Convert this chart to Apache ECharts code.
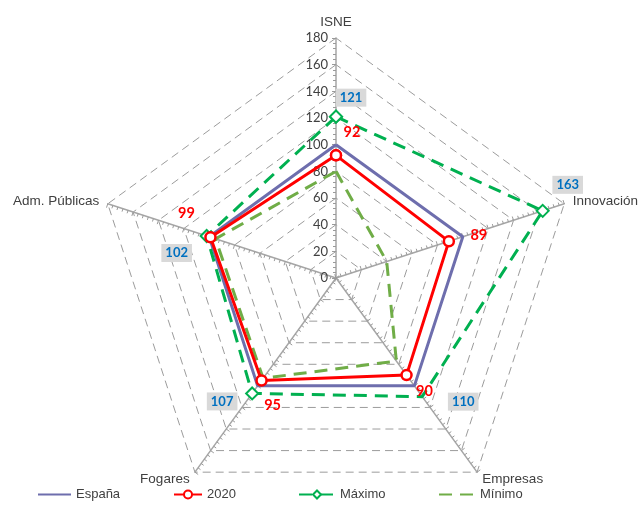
<!DOCTYPE html>
<html>
<head>
<meta charset="utf-8">
<script src="https://cdn.jsdelivr.net/npm/echarts@6/dist/echarts.min.js"></script>
<style>
  html, body { margin: 0; padding: 0; background: #fff; }
  #chart { width: 638px; height: 508px; }
</style>
</head>
<body>
<div id="chart"></div>
<script>
// Axes, clockwise from the top
const indicators = ['ISNE', 'Innovación', 'Empresas', 'Fogares', 'Adm. Públicas'];
const espana = [100, 100, 100, 100, 100];
const serie2020 = [92, 89, 90, 95, 99];
const maximo = [121, 163, 110, 107, 102];
const minimo = [80, 40, 77, 93, 95];
const scaleMax = 180;
const scaleStep = 20;

// Label placement around each vertex (pixels)
const offsets2020 = [[16, -23], [30, -6], [18, 16], [11, 25], [-24, -24]];
const offsetsMax = [[15, -19], [25, -26], [41, 5], [-30, 8], [-30, 17]];
// vertices drawn without a marker on the Máximo line
const maxNoMarker = [2];

const CENTER = ['336', '278'];
const RADIUS = 240;
const FONT = 'Lato';

// Radar lays indicators out counter-clockwise; feed them in reverse so they read clockwise
const radarOrder = [0, 4, 3, 2, 1];

function polarData(values, offsets, labelStyle, noMarker) {
  const pts = values.map((v, i) => {
    const item = { value: [v, i] };
    if (offsets) {
      item.label = Object.assign({ show: true, position: 'inside', offset: offsets[i],
        formatter: String(v) }, labelStyle);
    }
    if (noMarker && noMarker.indexOf(i) >= 0) {
      item.symbolSize = 0;
    }
    return item;
  });
  // close the polygon back at the first axis
  pts.push({ value: [values[0], indicators.length], label: { show: false } });
  return pts;
}

// One polar system per axis, used for the tick marks (the first one also holds the data)
const polars = [], angleAxes = [], radiusAxes = [];
indicators.forEach((name, i) => {
  polars.push({ center: CENTER, radius: RADIUS, startAngle: 90 - i * 72 });
  angleAxes.push({
    polarIndex: i, type: 'value', min: 0, max: indicators.length, clockwise: true,
    startAngle: 90 - i * 72, show: false
  });
  radiusAxes.push({
    polarIndex: i, type: 'value', min: 0, max: scaleMax, interval: scaleStep,
    axisLine: { show: false },
    axisTick: { show: true, length: 4, lineStyle: { color: '#9a9a9a', width: 1 } },
    minorTick: { show: true, splitNumber: 5, length: 3, lineStyle: { color: '#9a9a9a', width: 1 } },
    splitLine: { show: false },
    axisLabel: {
      show: i === 0, color: '#404040', fontFamily: FONT, fontSize: 13, margin: 8
    },
    z: 1
  });
});

const legendText = { color: '#404040', fontFamily: 'Liberation Sans', fontSize: 13 };
const hideMarker = { opacity: 0 };

const chart = echarts.init(document.getElementById('chart'));
chart.setOption({
  backgroundColor: '#ffffff',
  animation: false,
  radar: {
    center: CENTER,
    radius: RADIUS,
    startAngle: 90,
    shape: 'polygon',
    splitNumber: scaleMax / scaleStep,
    indicator: radarOrder.map(k => ({ name: indicators[k], min: 0, max: scaleMax })),
    axisName: { color: '#404040', fontFamily: 'Liberation Sans', fontSize: 13.5 },
    nameGap: 9,
    axisLine: { lineStyle: { color: '#a6a6a6', width: 1.5 } },
    axisTick: { show: false },
    axisLabel: { show: false },
    splitLine: { lineStyle: { color: '#9c9c9c', width: 1, type: [8, 5] } },
    splitArea: { show: false }
  },
  polar: polars,
  angleAxis: angleAxes,
  radiusAxis: radiusAxes,
  legend: [
    { data: [{ name: 'España', itemStyle: hideMarker }], left: 32, itemWidth: 33 },
    { data: ['2020'], left: 168, itemWidth: 28 },
    { data: ['Máximo'], left: 293, itemWidth: 36 },
    { data: [{ name: 'Mínimo', itemStyle: hideMarker }], left: 433, itemWidth: 36 }
  ].map(l => Object.assign({
    bottom: 2, itemHeight: 10, itemGap: 3, textStyle: legendText
  }, l)),
  series: [
    {
      name: 'España', type: 'line', coordinateSystem: 'polar', polarIndex: 0,
      symbol: 'none', color: '#6E6EAD',
      lineStyle: { color: '#6E6EAD', width: 3 },
      data: polarData(espana), z: 3
    },
    {
      name: '2020', type: 'line', coordinateSystem: 'polar', polarIndex: 0,
      symbol: 'circle', symbolSize: 10, color: '#FF0000',
      itemStyle: { color: '#ffffff', borderColor: '#FF0000', borderWidth: 2.5 },
      lineStyle: { color: '#FF0000', width: 3 },
      data: polarData(serie2020, offsets2020, {
        color: '#FF0000', fontWeight: 'bold', fontSize: 14.5, fontFamily: FONT
      }), z: 5
    },
    {
      name: 'Máximo', type: 'line', coordinateSystem: 'polar', polarIndex: 0,
      symbol: 'diamond', symbolSize: 12, color: '#00B050',
      itemStyle: { color: '#ffffff', borderColor: '#00B050', borderWidth: 2 },
      lineStyle: { color: '#00B050', width: 3, type: [13, 8] },
      data: polarData(maximo, offsetsMax, {
        color: '#0070C0', fontWeight: 'bold', fontSize: 13, fontFamily: FONT,
        backgroundColor: '#D9D9D9', padding: [3, 4, 2, 4]
      }, maxNoMarker), z: 4
    },
    {
      name: 'Mínimo', type: 'line', coordinateSystem: 'polar', polarIndex: 0,
      symbol: 'none', color: '#70AD47',
      lineStyle: { color: '#70AD47', width: 3, type: [13, 8] },
      data: polarData(minimo), z: 3
    }
  ]
});
</script>
</body>
</html>
